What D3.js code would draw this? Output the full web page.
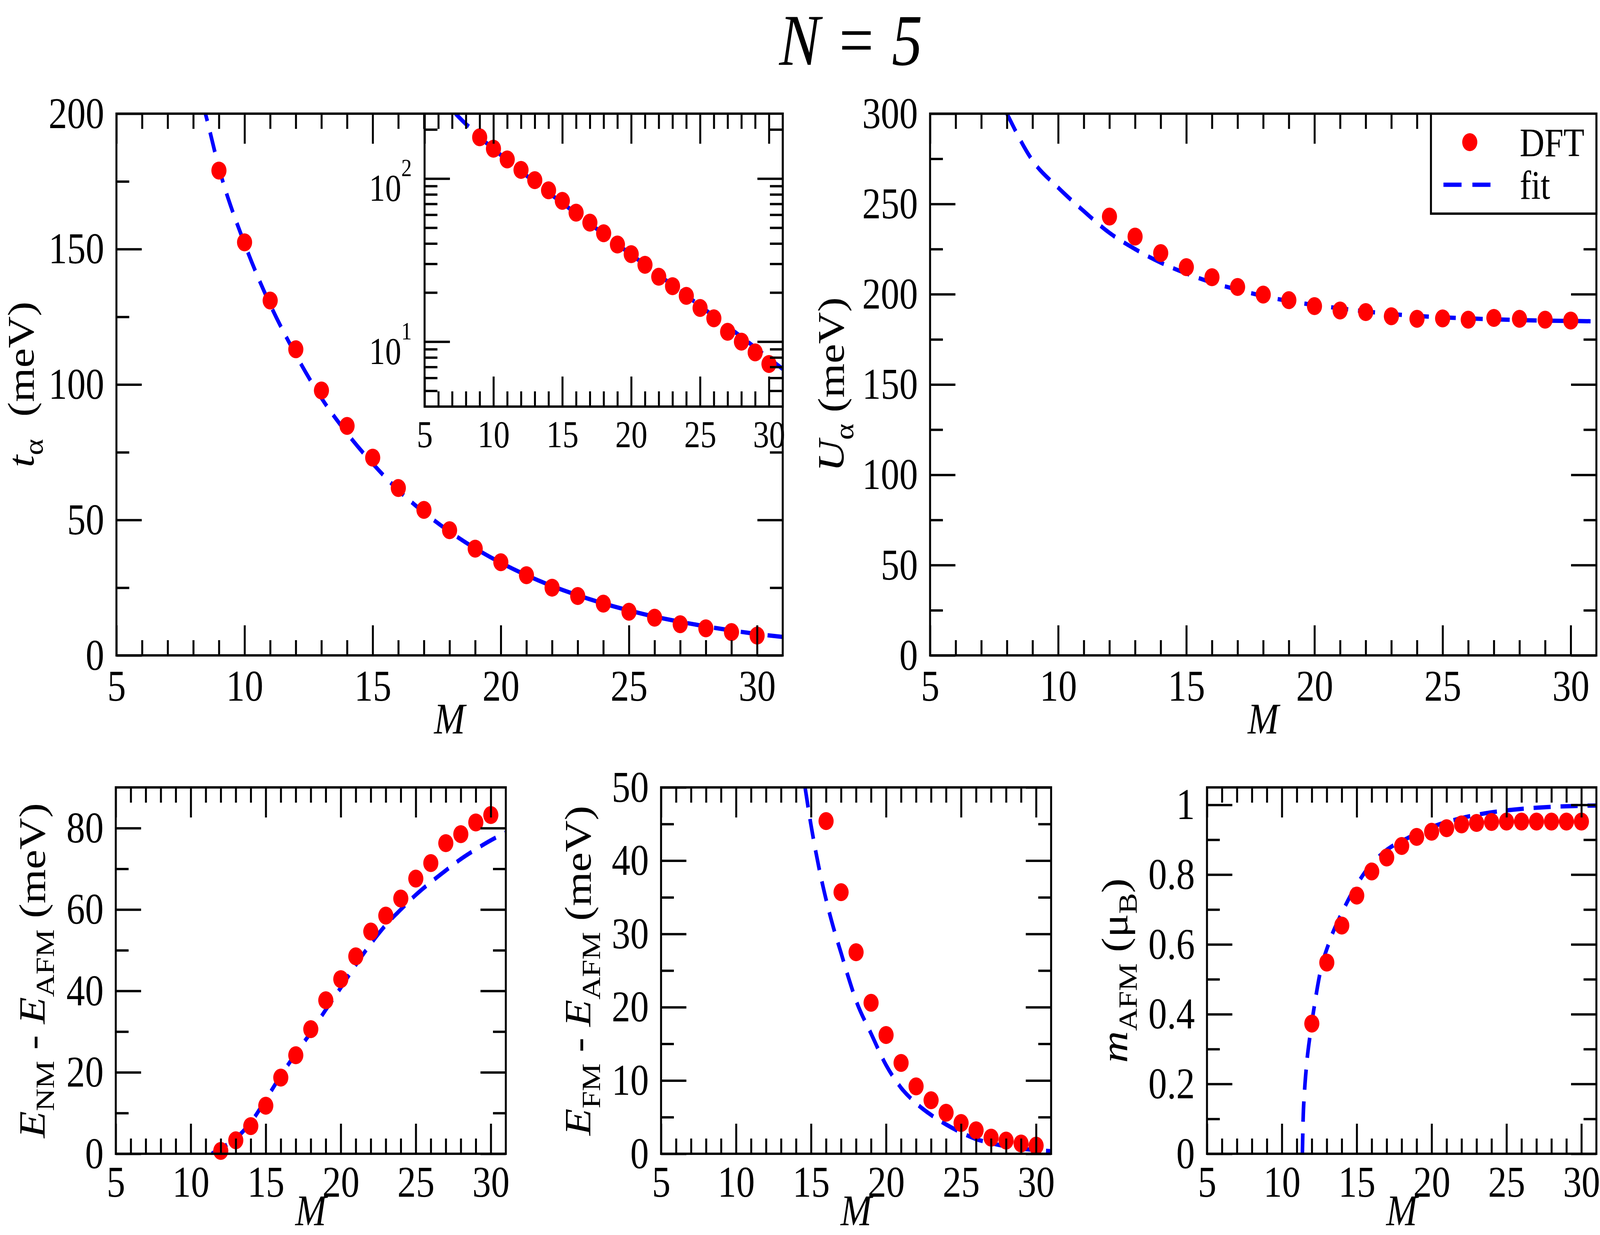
<!DOCTYPE html>
<html><head><meta charset="utf-8">
<script src="https://cdn.jsdelivr.net/npm/d3@7"></script>
<style>
html,body{margin:0;padding:0;background:#fff;overflow:hidden;width:100%;height:100%;}
#fig{display:block;width:100vw;height:100vh;}
text{font-family:"Liberation Serif","Times New Roman",Times,serif;white-space:pre;}
</style></head><body>
<svg id="fig" viewBox="0 0 4865 3162" preserveAspectRatio="none" xmlns="http://www.w3.org/2000/svg"></svg>
<script>
// ---------------- data ----------------
const tM   = [9,10,11,12,13,14,15,16,17,18,19,20,21,22,23,24,25,26,27,28,29,30];
const tVal = [179,152.5,131,113,97.8,84.7,73,61.8,53.7,46.2,39.4,34.4,29.6,25,21.9,19.1,16.1,13.9,11.5,10.0,8.6,7.3];
const tFitM = [7.25,8,8.5,9,10,11,12,13,14,15,16,17,18,19,20,21,22,23,24,25,26,27,28,29,30,31];
const tFitV = [250,216,199,180,152,129.5,111,95,82,70.8,61,52.8,45.7,39.5,34.2,29.6,25.6,22.2,19.2,16.6,14.3,12.4,10.7,9.2,7.9,6.8];

const uM   = [12,13,14,15,16,17,18,19,20,21,22,23,24,25,26,27,28,29,30];
const uVal = [243,231.9,222.8,215,209.4,204,199.8,196.7,193.4,191,190.1,187.8,186.4,186.6,185.9,186.9,186.4,185.9,185.4];
const uFitM = [8,9,10,11,12,13,14,15,16,17,18,19,20,21,22,23,24,25,26,27,28,29,30,31];
const uFitV = [300,274,259,246,234,225,217.5,211.5,206.5,202.5,199,196.2,194,192.2,190.5,189,188,187.2,186.6,186.1,185.7,185.4,185.2,185];

const nmM   = [12,13,14,15,16,17,18,19,20,21,22,23,24,25,26,27,28,29,30];
const nmVal = [0.7,3.3,6.8,11.8,18.7,24.2,30.6,37.7,42.9,48.5,54.6,58.5,62.7,67.6,71.4,76.3,78.5,81.4,83.2];
const nmFitM = [11.4,12,13,14,15,16,17,18,19,20,21,22,23,24,25,26,27,28,29,30,31];
const nmFitV = [0,1.3,3.8,7.7,13.3,19.2,24.6,29.8,35.4,40.8,46.4,51.6,56.2,60,63.6,66.7,69.6,72.4,74.8,77,78.9];

const fmM   = [16,17,18,19,20,21,22,23,24,25,26,27,28,29,30];
const fmVal = [45.4,35.7,27.5,20.6,16.2,12.4,9.2,7.3,5.6,4.2,3.2,2.2,1.8,1.4,1.1];
const fmFitM = [14.6,15,15.5,16,16.5,17,17.5,18,19,20,21,22,23,24,25,26,27,28,29,30,31];
const fmFitV = [50,44.8,39.3,34.7,30.8,27.4,24,20.9,16.4,12.1,9.0,6.9,5.3,4.0,2.9,2.0,1.45,1.0,0.7,0.5,0.35];

const mM   = [12,13,14,15,16,17,18,19,20,21,22,23,24,25,26,27,28,29,30];
const mVal = [0.373,0.548,0.654,0.740,0.809,0.849,0.882,0.908,0.923,0.933,0.944,0.948,0.951,0.952,0.952,0.952,0.952,0.952,0.952];
const mFitM = [11.37,11.42,11.5,11.65,11.9,12.2,12.55,13.15,14,15.1,15.8,16.8,18.5,19.8,21.8,23.6,25.2,27.9,31];
const mFitV = [0,0.1,0.17,0.255,0.345,0.432,0.518,0.605,0.69,0.778,0.821,0.864,0.907,0.933,0.96,0.976,0.985,0.994,0.998];

const xMajorTicks = [5,10,15,20,25,30];
const xMinorTicks = [6,7,8,9,11,12,13,14,16,17,18,19,21,22,23,24,26,27,28,29];
const tMajor = [0,50,100,150,200],  tMinor = [25,75,125,175];
const uMajor = [0,50,100,150,200,250,300], uMinor = [25,75,125,175,225,275];
const nmMajor = [0,20,40,60,80], nmMinor = [10,30,50,70];
const fmMajor = [0,10,20,30,40,50], fmMinor = [5,15,25,35,45];
const mMajor = [0,0.2,0.4,0.6,0.8,1], mMinor = [0.1,0.3,0.5,0.7,0.9];
const logMajor = [10,100], logMinor = [5,6,7,8,9,20,30,40,50,60,70,80,90,200];
const logLabels = [["10","1"],["10","2"]];
const legendLabels = ["DFT","fit"];

// ---------------- drawing ----------------
const FONT = '"Liberation Serif","Times New Roman",Times,serif';
const RED = "#ff0000", BLUE = "#0000ff";
const svg = d3.select("#fig");
svg.append("rect").attr("width",4865).attr("height",3162).attr("fill","#fff");
const defs = svg.append("defs");
let clipN = 0;

function panel(o){
  const g = svg.append("g");
  const x = d3.scaleLinear().domain([5,31]).range([o.x0,o.x1]);
  const y = (o.log ? d3.scaleLog() : d3.scaleLinear()).domain(o.yDom).range([o.y1,o.y0]);
  if (o.fill) g.append("rect").attr("x",o.x0).attr("y",o.y0).attr("width",o.x1-o.x0).attr("height",o.y1-o.y0).attr("fill","#fff");
  const cid = "clip"+(clipN++);
  defs.append("clipPath").attr("id",cid).append("rect")
    .attr("x",o.x0).attr("y",o.y0).attr("width",o.x1-o.x0).attr("height",o.y1-o.y0);
  const fit = o.fitM.map((m,i)=>[m,o.fitV[i]]);
  g.append("path").datum(fit)
    .attr("d", d3.line().x(d=>x(d[0])).y(d=>y(d[1])).curve(d3.curveMonotoneX))
    .attr("fill","none").attr("stroke",BLUE).attr("stroke-width",11)
    .attr("stroke-dasharray","52,30").attr("clip-path",`url(#${cid})`);
  g.selectAll("circle.pt").data(o.M.map((m,i)=>[m,o.v[i]])).join("circle")
    .attr("class","pt").attr("cx",d=>x(d[0])).attr("cy",d=>y(d[1])).attr("r",23).attr("fill",RED);

  const fs = o.fs;
  const add = (gen, tx, ty) => {
    const a = g.append("g").attr("transform",`translate(${tx},${ty})`).call(gen);
    a.select(".domain").remove();
    a.selectAll("line").attr("stroke","#000").attr("stroke-width",6);
    a.attr("font-family",FONT).attr("font-size",fs);
    a.selectAll("text").attr("fill","#000");
    return a;
  };
  const MAJ = 77, MIN = 39;
  add(d3.axisBottom(x).tickValues(xMajorTicks).tickSize(-MAJ).tickPadding(o.xPad).tickFormat(d3.format("d")), 0, o.y1);
  add(d3.axisBottom(x).tickValues(xMinorTicks).tickSize(-MIN).tickFormat(""), 0, o.y1);
  add(d3.axisTop(x).tickValues(xMajorTicks).tickSize(-MAJ).tickFormat(""), 0, o.y0);
  add(d3.axisTop(x).tickValues(xMinorTicks).tickSize(-MIN).tickFormat(""), 0, o.y0);
  add(d3.axisLeft(y).tickValues(o.yMaj).tickSize(-MAJ).tickPadding(37).tickFormat(o.yFmt || ""), o.x0, 0);
  add(d3.axisLeft(y).tickValues(o.yMin).tickSize(-MIN).tickFormat(""), o.x0, 0);
  add(d3.axisRight(y).tickValues(o.yMaj).tickSize(-MAJ).tickFormat(""), o.x1, 0);
  add(d3.axisRight(y).tickValues(o.yMin).tickSize(-MIN).tickFormat(""), o.x1, 0);
  g.append("rect").attr("x",o.x0).attr("y",o.y0).attr("width",o.x1-o.x0).attr("height",o.y1-o.y0)
    .attr("fill","none").attr("stroke","#000").attr("stroke-width",6);

  if (o.xLabel) {
    g.append("text").attr("x",(o.x0+o.x1)/2).attr("y",o.y1+o.mOff).attr("text-anchor","middle")
      .attr("font-size",113).attr("font-style","italic").text("M");
  }
  if (o.yLabel) yLabel(o.yLabel, o.x0 - o.yOff, (o.y0+o.y1)/2);
  return {x,y,g};
}

function yLabel(parts, bx, cy){
  const t = svg.append("text").attr("transform",`translate(${bx},${cy}) rotate(-90)`)
    .attr("text-anchor","middle").attr("font-size",113).attr("xml:space","preserve");
  let inSub = false;
  parts.forEach(p=>{
    const s = t.append("tspan").text(p.t);
    if (p.k === "i") s.attr("font-style","italic");
    if (p.k === "s") { s.attr("font-size",80); if (!inSub) s.attr("dy",28); inSub = true; }
    else if (inSub) { s.attr("dy",-28); inSub = false; }
  });
}

// top left
panel({x0:354,x1:2380,y0:291,y1:1678,yDom:[0,200],M:tM,v:tVal,fitM:tFitM,fitV:tFitV,
  yMaj:tMajor,yMin:tMinor,yFmt:d3.format("d"),fs:113,xPad:36,xLabel:true,mOff:200,yOff:252,
  yLabel:[{t:"t",k:"i"},{t:"α",k:"s"},{t:"\u00a0\u00a0(meV)",k:"n"}]});

// inset (log)
const ins = panel({x0:1291,x1:2380,y0:291,y1:1041,yDom:[4,250],log:true,fill:true,M:tM,v:tVal,fitM:tFitM,fitV:tFitV,
  yMaj:logMajor,yMin:logMinor,yFmt:null,fs:98,xPad:34,xLabel:false});
logMajor.forEach((v,i)=>{
  const t = svg.append("text").attr("x",1291-39).attr("y",ins.y(v)+57).attr("text-anchor","end").attr("font-size",98);
  t.append("tspan").text(logLabels[i][0]);
  t.append("tspan").attr("font-size",64).attr("dy",-63).text(logLabels[i][1]);
});

// top right
panel({x0:2828,x1:4854,y0:291,y1:1678,yDom:[0,300],M:uM,v:uVal,fitM:uFitM,fitV:uFitV,
  yMaj:uMajor,yMin:uMinor,yFmt:d3.format("d"),fs:113,xPad:36,xLabel:true,mOff:200,yOff:262,
  yLabel:[{t:"U",k:"i"},{t:"α",k:"s"},{t:"\u00a0(meV)",k:"n"}]});

// bottom left
panel({x0:352,x1:1538,y0:2016,y1:2954,yDom:[0,90],M:nmM,v:nmVal,fitM:nmFitM,fitV:nmFitV,
  yMaj:nmMajor,yMin:nmMinor,yFmt:d3.format("d"),fs:113,xPad:30,xLabel:true,mOff:183,yOff:216,
  yLabel:[{t:"E",k:"i"},{t:"NM",k:"s"},{t:" - ",k:"n"},{t:"E",k:"i"},{t:"AFM",k:"s"},{t:" (meV)",k:"n"}]});

// bottom middle
panel({x0:2010,x1:3196,y0:2016,y1:2954,yDom:[0,50],M:fmM,v:fmVal,fitM:fmFitM,fitV:fmFitV,
  yMaj:fmMajor,yMin:fmMinor,yFmt:d3.format("d"),fs:113,xPad:30,xLabel:true,mOff:183,yOff:214,
  yLabel:[{t:"E",k:"i"},{t:"FM",k:"s"},{t:" - ",k:"n"},{t:"E",k:"i"},{t:"AFM",k:"s"},{t:" (meV)",k:"n"}]});

// bottom right
panel({x0:3670,x1:4854,y0:2016,y1:2954,yDom:[0,1.05],M:mM,v:mVal,fitM:mFitM,fitV:mFitV,
  yMaj:mMajor,yMin:mMinor,yFmt:d3.format("~g"),fs:113,xPad:30,xLabel:true,mOff:183,yOff:242,
  yLabel:[{t:"m",k:"i"},{t:"AFM",k:"s"},{t:" (μ",k:"n"},{t:"B",k:"s"},{t:")",k:"n"}]});

// legend
const lg = svg.append("g");
lg.append("rect").attr("x",4351).attr("y",291).attr("width",4854-4351).attr("height",547-291)
  .attr("fill","#fff").attr("stroke","#000").attr("stroke-width",6);
lg.append("circle").attr("cx",4469).attr("cy",364).attr("r",23).attr("fill",RED);
lg.append("line").attr("x1",4389).attr("x2",4532).attr("y1",473).attr("y2",473)
  .attr("stroke",BLUE).attr("stroke-width",11).attr("stroke-dasharray","55,33");
lg.append("text").attr("x",4621).attr("y",400).attr("font-size",104).text(legendLabels[0]);
lg.append("text").attr("x",4621).attr("y",509).attr("font-size",104).text(legendLabels[1]);

// title
svg.append("text").attr("x",2587).attr("y",166).attr("text-anchor","middle")
  .attr("font-size",186).attr("font-style","italic").text("N = 5");
</script>
</body></html>
